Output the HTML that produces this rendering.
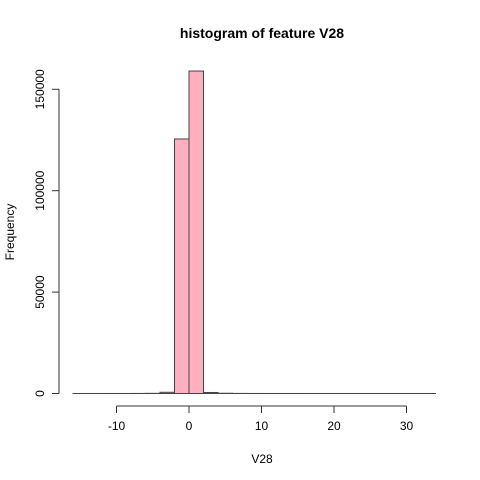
<!DOCTYPE html>
<html><head><meta charset="utf-8"><style>
html,body{margin:0;padding:0;background:#fff;}
svg{display:block;font-family:"Liberation Sans",Arial,sans-serif;}
</style></head><body>
<svg id="chart" width="480" height="480" viewBox="0 0 480 480">
<text x="262" y="38" text-anchor="middle" font-size="14" font-weight="bold">histogram of feature V28</text>
<text x="262" y="463" text-anchor="middle" font-size="12">V28</text>
<text transform="translate(14,232) rotate(-90)" text-anchor="middle" font-size="12">Frequency</text>
<g id="bars"></g>
<g id="xaxis"></g>
<g id="yaxis"></g>
</svg>
<script>
const binEdges = [-16,-14,-12,-10,-8,-6,-4,-2,0,2,4,6,8,10,12,14,16,18,20,22,24,26,28,30,32,34];
const counts = [2,3,5,10,30,80,600,125500,159000,500,120,40,20,10,6,4,3,2,2,1,1,1,1,1,1];
const xTicks = [-10,0,10,20,30];
const yTicks = [0,50000,100000,150000];
const NS="http://www.w3.org/2000/svg";
function sx(v){return 189+(v)*7.25;}
function sy(v){return 393.5-v*0.002028;}
const bars=document.getElementById('bars');
for(let i=0;i<counts.length;i++){
  const r=document.createElementNS(NS,'rect');
  const x0=sx(binEdges[i]),x1=sx(binEdges[i+1]);
  r.setAttribute('x',x0);r.setAttribute('width',x1-x0);
  r.setAttribute('y',sy(counts[i]));r.setAttribute('height',sy(0)-sy(counts[i]));
  r.setAttribute('fill','#ffb0c0');r.setAttribute('stroke','#444');r.setAttribute('stroke-width','1');
  
  
  bars.appendChild(r);
}
const xa=document.getElementById('xaxis');
function line(g,x1,y1,x2,y2,name){const l=document.createElementNS(NS,'line');l.setAttribute('x1',x1);l.setAttribute('y1',y1);l.setAttribute('x2',x2);l.setAttribute('y2',y2);l.setAttribute('stroke','#333');


g.appendChild(l);}
function text(g,x,y,s,t,name){const e=document.createElementNS(NS,'text');e.setAttribute('x',x);e.setAttribute('y',y);e.setAttribute('font-size','12');e.setAttribute('text-anchor','middle');if(t)e.setAttribute('transform',t);e.textContent=s;


g.appendChild(e);}
line(xa,sx(xTicks[0]),406,sx(xTicks[xTicks.length-1]),406,'x-axis-line');
xTicks.forEach(v=>{line(xa,sx(v),406,sx(v),413,'x-tick');text(xa,sx(v),430,String(v),null,'x-tick-label');});
const ya=document.getElementById('yaxis');
line(ya,59,sy(yTicks[0]),59,sy(yTicks[yTicks.length-1]),'y-axis-line');
yTicks.forEach(v=>{line(ya,52,sy(v),59,sy(v),'y-tick');const y=sy(v);text(ya,44,y,String(v),'rotate(-90,44,'+y+')','y-tick-label');});
</script>
</body></html>
